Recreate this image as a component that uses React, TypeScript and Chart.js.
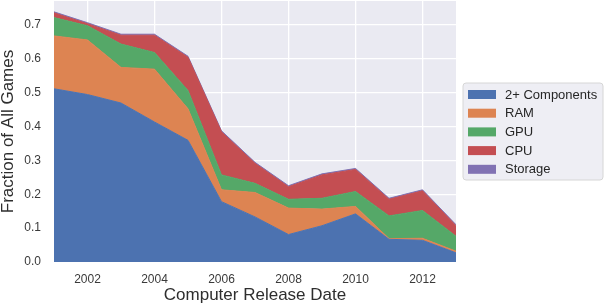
import React, { useEffect, useRef } from "react";
import { Chart, registerables } from "chart.js";

Chart.register(...registerables);

const years = [2001, 2002, 2003, 2004, 2005, 2006, 2007, 2008, 2009, 2010, 2011, 2012, 2013];
const multiComponents = [0.511, 0.494, 0.469, 0.413, 0.359, 0.178, 0.133, 0.081, 0.107, 0.142, 0.067, 0.064, 0.027];
const ram = [0.156, 0.161, 0.105, 0.156, 0.093, 0.035, 0.072, 0.078, 0.049, 0.022, 0.002, 0.006, 0.005];
const gpu = [0.054, 0.042, 0.069, 0.049, 0.054, 0.044, 0.027, 0.026, 0.032, 0.044, 0.067, 0.082, 0.044];
const cpu = [0.014, 0.006, 0.026, 0.051, 0.098, 0.127, 0.059, 0.037, 0.069, 0.065, 0.049, 0.058, 0.031];
const storage = [0.003, 0.003, 0.003, 0.003, 0.003, 0.003, 0.003, 0.003, 0.003, 0.003, 0.003, 0.003, 0.003];

const seriesNames = ["2+ Components", "RAM", "GPU", "CPU", "Storage"];
const seriesValues = [multiComponents, ram, gpu, cpu, storage];
const seriesColors = ["#4C72B0", "#DD8452", "#55A868", "#C44E52", "#8172B3"];

const xTicks = [2002, 2004, 2006, 2008, 2010, 2012];
const yTicks = [0, 0.1, 0.2, 0.3, 0.4, 0.5, 0.6, 0.7];

const FONT = "'Liberation Sans', Arial, sans-serif";

const plotBg = {
  id: "plotBg",
  beforeDraw(chart: any) {
    const { ctx, chartArea } = chart;
    ctx.save();
    ctx.fillStyle = "#EAEAF2";
    ctx.fillRect(chartArea.left, chartArea.top, chartArea.right - chartArea.left, chartArea.bottom - chartArea.top);
    ctx.restore();
  },
};

const customLegend = {
  id: "customLegend",
  afterDraw(chart: any) {
    const { ctx, chartArea } = chart;
    const w = 140;
    const h = 97;
    const left = chartArea.right + 7;
    const top = (chartArea.top + chartArea.bottom) / 2 - h / 2;
    ctx.save();
    ctx.beginPath();
    const r = 3;
    ctx.moveTo(left + r, top);
    ctx.lineTo(left + w - r, top);
    ctx.quadraticCurveTo(left + w, top, left + w, top + r);
    ctx.lineTo(left + w, top + h - r);
    ctx.quadraticCurveTo(left + w, top + h, left + w - r, top + h);
    ctx.lineTo(left + r, top + h);
    ctx.quadraticCurveTo(left, top + h, left, top + h - r);
    ctx.lineTo(left, top + r);
    ctx.quadraticCurveTo(left, top, left + r, top);
    ctx.closePath();
    ctx.fillStyle = "#EEEEF4";
    ctx.fill();
    ctx.strokeStyle = "#D6D6D6";
    ctx.lineWidth = 1;
    ctx.stroke();
    chart.data.datasets.forEach((ds: any, i: number) => {
      const cy = top + 11.5 + i * 18.7;
      ctx.fillStyle = ds.backgroundColor;
      ctx.fillRect(left + 5, cy - 4.5, 28, 9);
      ctx.fillStyle = "#262626";
      ctx.font = `13px ${FONT}`;
      ctx.textBaseline = "middle";
      ctx.textAlign = "left";
      ctx.fillText(ds.label, left + 42, cy + 0.5);
    });
    ctx.restore();
  },
};

export default function App() {
  const ref = useRef<HTMLCanvasElement | null>(null);

  useEffect(() => {
    if (!ref.current) return;
    const datasets = seriesNames.map((name, i) => ({
      label: name,
      data: years.map((x, j) => ({ x, y: seriesValues[i][j] })),
      fill: i === 0 ? "origin" : "-1",
      backgroundColor: seriesColors[i],
      borderColor: seriesColors[i],
      borderWidth: 1,
      pointRadius: 0,
      tension: 0,
    }));
    const chart = new Chart(ref.current, {
      type: "line",
      data: { datasets },
      options: {
        animation: false,
        responsive: false,
        devicePixelRatio: 1,
        layout: { padding: { left: 0, right: 152, top: 1, bottom: 0 } },
        plugins: {
          legend: { display: false },
          tooltip: { enabled: false },
        },
        scales: {
          x: {
            type: "linear",
            min: 2001,
            max: 2013,
            afterBuildTicks: (scale: any) => {
              scale.ticks = xTicks.map((v) => ({ value: v }));
            },
            afterFit: (scale: any) => {
              scale.height = 44;
              scale.paddingLeft = 0;
              scale.paddingRight = 0;
            },
            grid: { color: "#FFFFFF", lineWidth: 1.3, drawTicks: false },
            border: { display: false },
            ticks: {
              color: "#3A3A3A",
              font: { family: FONT, size: 12 },
              padding: 10,
              maxRotation: 0,
              callback: (v: any) => String(v),
            },
            title: {
              display: true,
              text: "Computer Release Date",
              color: "#2E2E2E",
              font: { family: FONT, size: 17 },
              padding: 0,
            },
          },
          y: {
            type: "linear",
            stacked: true,
            min: 0,
            max: 0.77,
            afterBuildTicks: (scale: any) => {
              scale.ticks = yTicks.map((v) => ({ value: v }));
            },
            afterFit: (scale: any) => {
              scale.width = 54;
              scale.paddingTop = 0;
              scale.paddingBottom = 0;
            },
            grid: { color: "#FFFFFF", lineWidth: 1.3, drawTicks: false },
            border: { display: false },
            ticks: {
              color: "#3A3A3A",
              font: { family: FONT, size: 12 },
              padding: 13,
              callback: (v: any) => Number(v).toFixed(1),
            },
            title: {
              display: true,
              text: "Fraction of All Games",
              color: "#2E2E2E",
              font: { family: FONT, size: 17 },
              padding: { top: -2, bottom: 0 },
            },
          },
        },
      } as any,
      plugins: [plotBg, customLegend],
    });
    return () => chart.destroy();
  }, []);

  return (
    <div style={{ position: "fixed", left: 0, top: 0, width: 608, height: 306, background: "#FFFFFF" }}>
      <canvas ref={ref} width={608} height={306} style={{ display: "block" }} />
    </div>
  );
}
